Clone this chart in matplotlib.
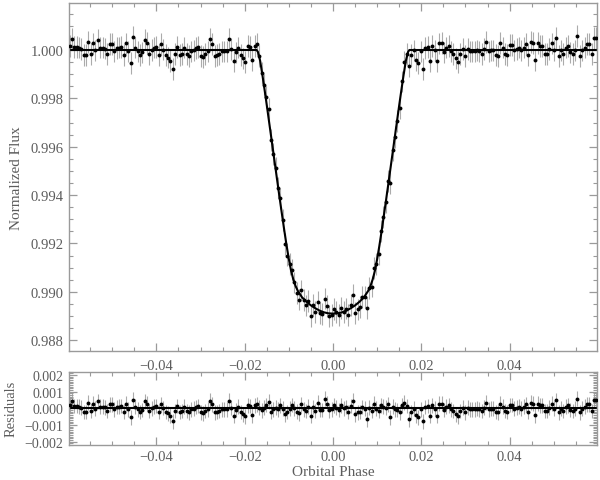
import numpy as np
import matplotlib
matplotlib.use("Agg")
import matplotlib.pyplot as plt
from matplotlib.ticker import MultipleLocator, FuncFormatter

# === Data ===
# orbital phase of each point, in units of 1e-5
phase_e5 = [
    -5963, -5910, -5857, -5804, -5751, -5698, -5645, -5592, -5539, -5486,
    -5433, -5380, -5327, -5274, -5221, -5168, -5115, -5062, -5009, -4956,
    -4903, -4850, -4797, -4744, -4691, -4638, -4585, -4532, -4479, -4426,
    -4373, -4320, -4267, -4214, -4161, -4108, -4055, -4002, -3949, -3896,
    -3843, -3790, -3737, -3684, -3631, -3578, -3525, -3472, -3419, -3366,
    -3313, -3260, -3207, -3154, -3101, -3048, -2995, -2942, -2889, -2836,
    -2783, -2730, -2677, -2624, -2571, -2518, -2465, -2412, -2359, -2306,
    -2253, -2200, -2147, -2094, -2041, -1988, -1935, -1882, -1829, -1776,
    -1723, -1670, -1617, -1564, -1511, -1458, -1405, -1352, -1299, -1246,
    -1193, -1140, -1087, -1034, -981, -928, -875, -822, -769, -716,
    -663, -610, -557, -504, -451, -398, -345, -292, -239, -186,
    -133, -80, -27, 26, 79, 132, 185, 238, 291, 344,
    397, 450, 503, 556, 609, 662, 715, 768, 821, 874,
    927, 980, 1033, 1086, 1139, 1192, 1245, 1298, 1351, 1404,
    1457, 1510, 1563, 1616, 1669, 1722, 1775, 1828, 1881, 1934,
    1987, 2040, 2093, 2146, 2199, 2252, 2305, 2358, 2411, 2464,
    2517, 2570, 2623, 2676, 2729, 2782, 2835, 2888, 2941, 2994,
    3047, 3100, 3153, 3206, 3259, 3312, 3365, 3418, 3471, 3524,
    3577, 3630, 3683, 3736, 3789, 3842, 3895, 3948, 4001, 4054,
    4107, 4160, 4213, 4266, 4319, 4372, 4425, 4478, 4531, 4584,
    4637, 4690, 4743, 4796, 4849, 4902, 4955, 5008, 5061, 5114,
    5167, 5220, 5273, 5326, 5379, 5432, 5485, 5538, 5591, 5644,
    5697, 5750, 5803, 5856, 5909, 5962,
]

flux = [
    1.00018, 1.00047, 1.00014, 1.00014, 1.00010, 1.00004, 0.99978, 0.99978, 1.00033, 0.99984,
    1.00027, 0.99998, 1.00043, 1.00010, 1.00010, 1.00006, 0.99984, 1.00025, 1.00025, 0.99994,
    1.00008, 1.00010, 1.00014, 0.99978, 1.00027, 0.99994, 0.99945, 1.00053, 1.00010, 0.99994,
    0.99978, 0.99990, 1.00043, 1.00029, 0.99984, 1.00000, 1.00010, 1.00014, 0.99978, 1.00024,
    1.00002, 0.99978, 0.99969, 0.99955, 0.99922, 0.99984, 1.00014, 0.99978, 0.99984, 1.00010,
    0.99984, 0.99975, 0.99994, 0.99998, 1.00008, 1.00014, 0.99975, 0.99971, 0.99984, 0.99994,
    1.00047, 1.00024, 0.99975, 0.99978, 0.99984, 0.99994, 0.99994, 0.99994, 1.00047, 1.00004,
    0.99955, 0.99990, 1.00010, 0.99978, 0.99965, 0.99951, 1.00018, 1.00014, 0.99959, 1.00018,
    1.00024, 0.99974, 0.99905, 0.99857, 0.99806, 0.99756, 0.99627, 0.99571, 0.99511, 0.99431,
    0.99386, 0.99298, 0.99199, 0.99150, 0.99115, 0.99092, 0.99039, 0.98994, 0.98968, 0.99006,
    0.98965, 0.98944, 0.98962, 0.98901, 0.98947, 0.98916, 0.98960, 0.98913, 0.98908, 0.98972,
    0.98942, 0.98900, 0.98904, 0.98928, 0.98916, 0.98903, 0.98933, 0.98918, 0.98931, 0.98905,
    0.98946, 0.98986, 0.98911, 0.98927, 0.98938, 0.98978, 0.98980, 0.98932, 0.99017, 0.99022,
    0.99098, 0.99114, 0.99155, 0.99251, 0.99309, 0.99371, 0.99459, 0.99451, 0.99585, 0.99639,
    0.99705, 0.99760, 0.99870, 0.99949, 0.99983, 0.99935, 0.99978, 0.99998, 0.99959, 0.99945,
    0.99994, 0.99922, 1.00008, 1.00014, 0.99955, 1.00018, 0.99998, 0.99955, 1.00027, 1.00029,
    0.99990, 1.00010, 1.00018, 0.99994, 0.99984, 0.99965, 0.99951, 0.99984, 1.00004, 0.99975,
    1.00004, 0.99994, 0.99994, 0.99994, 0.99998, 0.99994, 0.99984, 1.00004, 1.00033, 0.99994,
    0.99998, 0.99998, 0.99978, 0.99975, 1.00029, 1.00010, 0.99984, 0.99978, 1.00020, 1.00020,
    0.99998, 1.00004, 1.00010, 0.99998, 1.00010, 1.00024, 0.99980, 1.00033, 1.00029, 0.99959,
    1.00029, 1.00018, 1.00018, 0.99984, 0.99984, 1.00004, 1.00027, 0.99998, 1.00049, 0.99975,
    0.99998, 0.99984, 1.00010, 1.00018, 0.99990, 0.99984, 0.99998, 1.00057, 0.99975, 0.99998,
    1.00010, 1.00024, 1.00024, 0.99984, 1.00049, 1.00049,
]

# residuals (data - model), in units of 1e-4
resid_e4 = [
    1.8, 4.7, 1.4, 1.4, 1.0, 0.4, -2.2, -2.2, 3.3, -1.6,
    2.7, -0.2, 4.3, 1.0, 1.0, 0.6, -1.6, 2.5, 2.5, -0.6,
    0.8, 1.0, 1.4, -2.2, 2.7, -0.6, -5.5, 5.3, 1.0, -0.6,
    -2.2, -1.0, 4.3, 2.9, -1.6, 0.0, 1.0, 1.4, -2.2, 2.4,
    0.2, -2.2, -3.1, -4.5, -7.8, -1.6, 1.4, -2.2, -1.6, 1.0,
    -1.6, -2.5, -0.6, -0.2, 0.8, 1.4, -2.5, -2.9, -1.6, -0.6,
    4.7, 2.4, -2.5, -2.2, -1.6, -0.6, -0.6, -0.6, 4.7, 0.4,
    -4.5, -1.0, 1.0, -2.2, -3.5, -4.9, 1.8, 1.4, -4.1, 1.8,
    2.4, 0.4, -1.2, 0.4, 2.0, 3.9, -2.0, -0.6, 0.4, -0.6,
    1.8, -0.2, -3.5, -2.2, -0.2, 2.0, 0.0, -2.0, -2.9, 2.4,
    -0.6, -1.6, 1.0, -4.5, 0.8, -1.6, 3.3, -1.0, -1.0, 5.7,
    2.9, -1.2, -0.6, 1.8, 0.4, -1.0, 1.8, 0.0, 0.8, -2.2,
    1.4, 4.7, -3.5, -2.5, -2.2, 0.8, -0.2, -6.5, 0.4, -1.6,
    2.7, -0.2, -1.6, 1.8, 1.0, 0.4, 2.4, -5.5, 1.0, -0.6,
    -1.0, -2.5, 1.8, 3.3, 1.4, -6.5, -2.2, -0.2, -4.1, -5.5,
    -0.6, -7.8, 0.8, 1.4, -4.5, 1.8, -0.2, -4.5, 2.7, 2.9,
    -1.0, 1.0, 1.8, -0.6, -1.6, -3.5, -4.9, -1.6, 0.4, -2.5,
    0.4, -0.6, -0.6, -0.6, -0.2, -0.6, -1.6, 0.4, 3.3, -0.6,
    -0.2, -0.2, -2.2, -2.5, 2.9, 1.0, -1.6, -2.2, 2.0, 2.0,
    -0.2, 0.4, 1.0, -0.2, 1.0, 2.4, -2.0, 3.3, 2.9, -4.1,
    2.9, 1.8, 1.8, -1.6, -1.6, 0.4, 2.7, -0.2, 4.9, -2.5,
    -0.2, -1.6, 1.0, 1.8, -1.0, -1.6, -0.2, 5.7, -2.5, -0.2,
    1.0, 2.4, 2.4, -1.6, 4.9, 4.9,
]

# fitted transit model
model_phase = [
    -0.0600, -0.0173, -0.0170, -0.0165, -0.0160, -0.0155, -0.0150, -0.0145, -0.0140,
    -0.0135, -0.0130, -0.0125, -0.0120, -0.0115, -0.0110, -0.0105, -0.0100, -0.0095,
    -0.0090, -0.0085, -0.0080, -0.0070, -0.0060, -0.0050, -0.0040, -0.0030, -0.0020,
    -0.0010, 0.0000, 0.0010, 0.0020, 0.0030, 0.0040, 0.0050, 0.0060, 0.0070, 0.0080,
    0.0085, 0.0090, 0.0095, 0.0100, 0.0105, 0.0110, 0.0115, 0.0120, 0.0125, 0.0130,
    0.0135, 0.0140, 0.0145, 0.0150, 0.0155, 0.0160, 0.0165, 0.0170, 0.0173, 0.0600,
]
model_flux = [
    1.00000, 1.00000, 0.99992, 0.99955, 0.99898, 0.99836, 0.99772, 0.99706, 0.99640,
    0.99574, 0.99508, 0.99442, 0.99377, 0.99313, 0.99250, 0.99190, 0.99135, 0.99088,
    0.99052, 0.99025, 0.99005, 0.98977, 0.98959, 0.98944, 0.98932, 0.98922, 0.98915,
    0.98911, 0.98910, 0.98911, 0.98915, 0.98922, 0.98932, 0.98944, 0.98959, 0.98977,
    0.99005, 0.99025, 0.99052, 0.99088, 0.99135, 0.99190, 0.99250, 0.99313, 0.99377,
    0.99442, 0.99508, 0.99574, 0.99640, 0.99706, 0.99772, 0.99836, 0.99898, 0.99955,
    0.99992, 1.00000, 1.00000,
]

flux_err = 0.00045

phase = np.array(phase_e5) * 1e-5
resid = np.array(resid_e4) * 1e-4

# === Style ===
plt.rcParams["font.family"] = ["Liberation Serif", "DejaVu Serif"]
axis_gray = "#9a9a9a"
text_gray = "#5c5c5c"
bar_gray = "#ababab"


def minus_fmt(ndig):
    def f(v, pos):
        if abs(v) < 1e-12:
            v = 0.0
        return f"{v:.{ndig}f}".replace("-", "\u2212")
    return FuncFormatter(f)


def style_axis(ax):
    for sp in ax.spines.values():
        sp.set_color(axis_gray)
        sp.set_linewidth(1.0)
    ax.tick_params(which="both", direction="in", top=True, right=True,
                   color=axis_gray, labelcolor=text_gray, labelsize=10.5)
    ax.tick_params(which="major", length=6, width=0.9)
    ax.tick_params(which="minor", length=3, width=0.8)
    ax.tick_params(axis="x", pad=6)
    ax.tick_params(axis="y", pad=4)
    ax.set_xlim(-0.0598, 0.0598)
    ax.xaxis.set_major_locator(MultipleLocator(0.02))
    ax.xaxis.set_minor_locator(MultipleLocator(0.005))
    ax.xaxis.set_major_formatter(minus_fmt(2))


# === Figure ===
fig = plt.figure(figsize=(6, 4.81), dpi=100)
ax1 = fig.add_axes([0.115, 0.268, 0.88, 0.724])
ax2 = fig.add_axes([0.115, 0.073, 0.88, 0.152])

# light curve
ax1.errorbar(phase, flux, yerr=flux_err, fmt="none", ecolor=bar_gray,
             elinewidth=0.8, capsize=0, zorder=1)
ax1.plot(model_phase, model_flux, color="black", lw=1.5, zorder=2)
ax1.plot(phase, flux, "o", color="black", ms=2.8, mew=0, zorder=3)
style_axis(ax1)
ax1.set_ylim(0.98755, 1.00195)
ax1.yaxis.set_major_locator(MultipleLocator(0.002))
ax1.yaxis.set_minor_locator(MultipleLocator(0.0005))
ax1.yaxis.set_major_formatter(minus_fmt(3))
ax1.set_ylabel("Normalized Flux", color=text_gray, fontsize=11)
ax1.yaxis.set_label_coords(-0.088, 0.5)

# residuals
ax2.errorbar(phase, resid, yerr=flux_err, fmt="none", ecolor=bar_gray,
             elinewidth=0.8, capsize=0, zorder=1)
ax2.axhline(0.0, color="black", lw=1.5, zorder=2)
ax2.plot(phase, resid, "o", color="black", ms=2.8, mew=0, zorder=3)
style_axis(ax2)
ax2.tick_params(axis="x", pad=4)
ax2.tick_params(axis="y", labelsize=10)
ax2.set_ylim(-0.0022, 0.0022)
ax2.yaxis.set_major_locator(MultipleLocator(0.001))
ax2.yaxis.set_minor_locator(MultipleLocator(0.0001))
ax2.yaxis.set_major_formatter(minus_fmt(3))
ax2.set_ylabel("Residuals", color=text_gray, fontsize=10.5)
ax2.yaxis.set_label_coords(-0.098, 0.5)
ax2.set_xlabel("Orbital Phase", color=text_gray, fontsize=11)
ax2.xaxis.set_label_coords(0.5, -0.28)

fig.savefig("out.png", dpi=100)
